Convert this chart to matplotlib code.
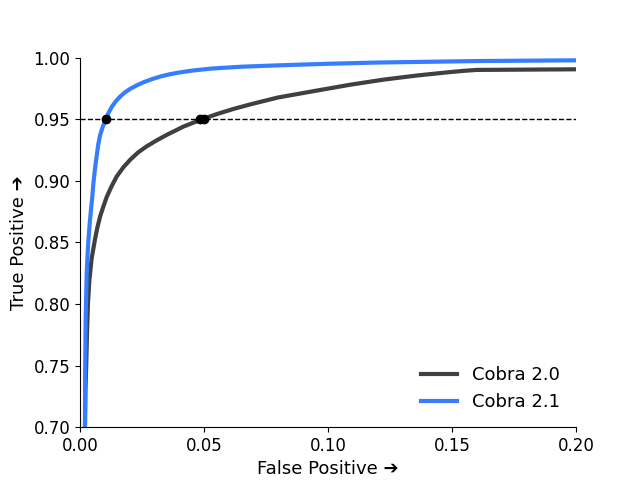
import numpy as np
import matplotlib
matplotlib.use("Agg")
import matplotlib.pyplot as plt

# curve: Cobra 2.0
fp_20 = [0.0020, 0.0022, 0.0025, 0.0028, 0.0032, 0.0038, 0.0047, 0.0060, 0.0070,
         0.0081, 0.0094, 0.0108, 0.0126, 0.0148, 0.0175, 0.0202, 0.0234, 0.0269,
         0.0308, 0.0349, 0.0417, 0.0493, 0.0551, 0.0620, 0.0690, 0.0798, 0.0954,
         0.1090, 0.1223, 0.1360, 0.1490, 0.1550, 0.1600, 0.2000]
tp_20 = [0.700, 0.730, 0.750, 0.775, 0.800, 0.820, 0.837, 0.852, 0.862,
         0.871, 0.879, 0.887, 0.895, 0.9035, 0.911, 0.917, 0.923, 0.928,
         0.9327, 0.9372, 0.9440, 0.950, 0.9541, 0.9584, 0.9622, 0.9676, 0.9732,
         0.9780, 0.9821, 0.9855, 0.9882, 0.9893, 0.9900, 0.9905]

# Cobra 2.1
fp_21 = [0.0020, 0.0021, 0.0023, 0.0027, 0.0031, 0.0034, 0.0039, 0.0044, 0.0050,
         0.0054, 0.0060, 0.0067, 0.0074, 0.0081, 0.0092, 0.0104, 0.0116, 0.0128,
         0.0144, 0.0161, 0.0180, 0.0202, 0.0228, 0.0255, 0.0290, 0.0325, 0.0360,
         0.0397, 0.0450, 0.0530, 0.0650, 0.0798, 0.1000, 0.1200, 0.1600, 0.2000]
tp_21 = [0.700, 0.750, 0.790, 0.825, 0.842, 0.852, 0.865, 0.876, 0.888,
         0.898, 0.909, 0.9198, 0.930, 0.937, 0.944, 0.950, 0.9555, 0.9600,
         0.9645, 0.9682, 0.9716, 0.9746, 0.9774, 0.9799, 0.9825, 0.9847, 0.9864,
         0.9878, 0.9894, 0.9911, 0.9926, 0.9937, 0.9950, 0.9960, 0.9972, 0.9978]

# operating points at TP = 0.95
op_fp = [0.0104, 0.0483, 0.0500]
op_tp = [0.95, 0.95, 0.95]

plt.rcParams["font.size"] = 12

fig, ax = plt.subplots(figsize=(6.4, 4.8), dpi=100)
ax.plot(fp_20, tp_20, color="#404040", lw=3, label="Cobra 2.0")
ax.plot(fp_21, tp_21, color="#377eff", lw=3, label="Cobra 2.1")
ax.axhline(0.95, color="k", ls="--", lw=1)
ax.plot(op_fp, op_tp, "ko", ms=6)

ax.set_xlim(0, 0.2)
ax.set_ylim(0.7, 1.0)
ax.set_xticks([0.0, 0.05, 0.10, 0.15, 0.20])
ax.set_xticklabels(["0.00", "0.05", "0.10", "0.15", "0.20"])
ax.set_xlabel("False Positive \u2794", fontsize=13)
ax.set_ylabel("True Positive \u2794", fontsize=13)
ax.spines["top"].set_visible(False)
ax.spines["right"].set_visible(False)
ax.legend(loc="lower right", frameon=False, fontsize=13)

fig.savefig("out.png")
